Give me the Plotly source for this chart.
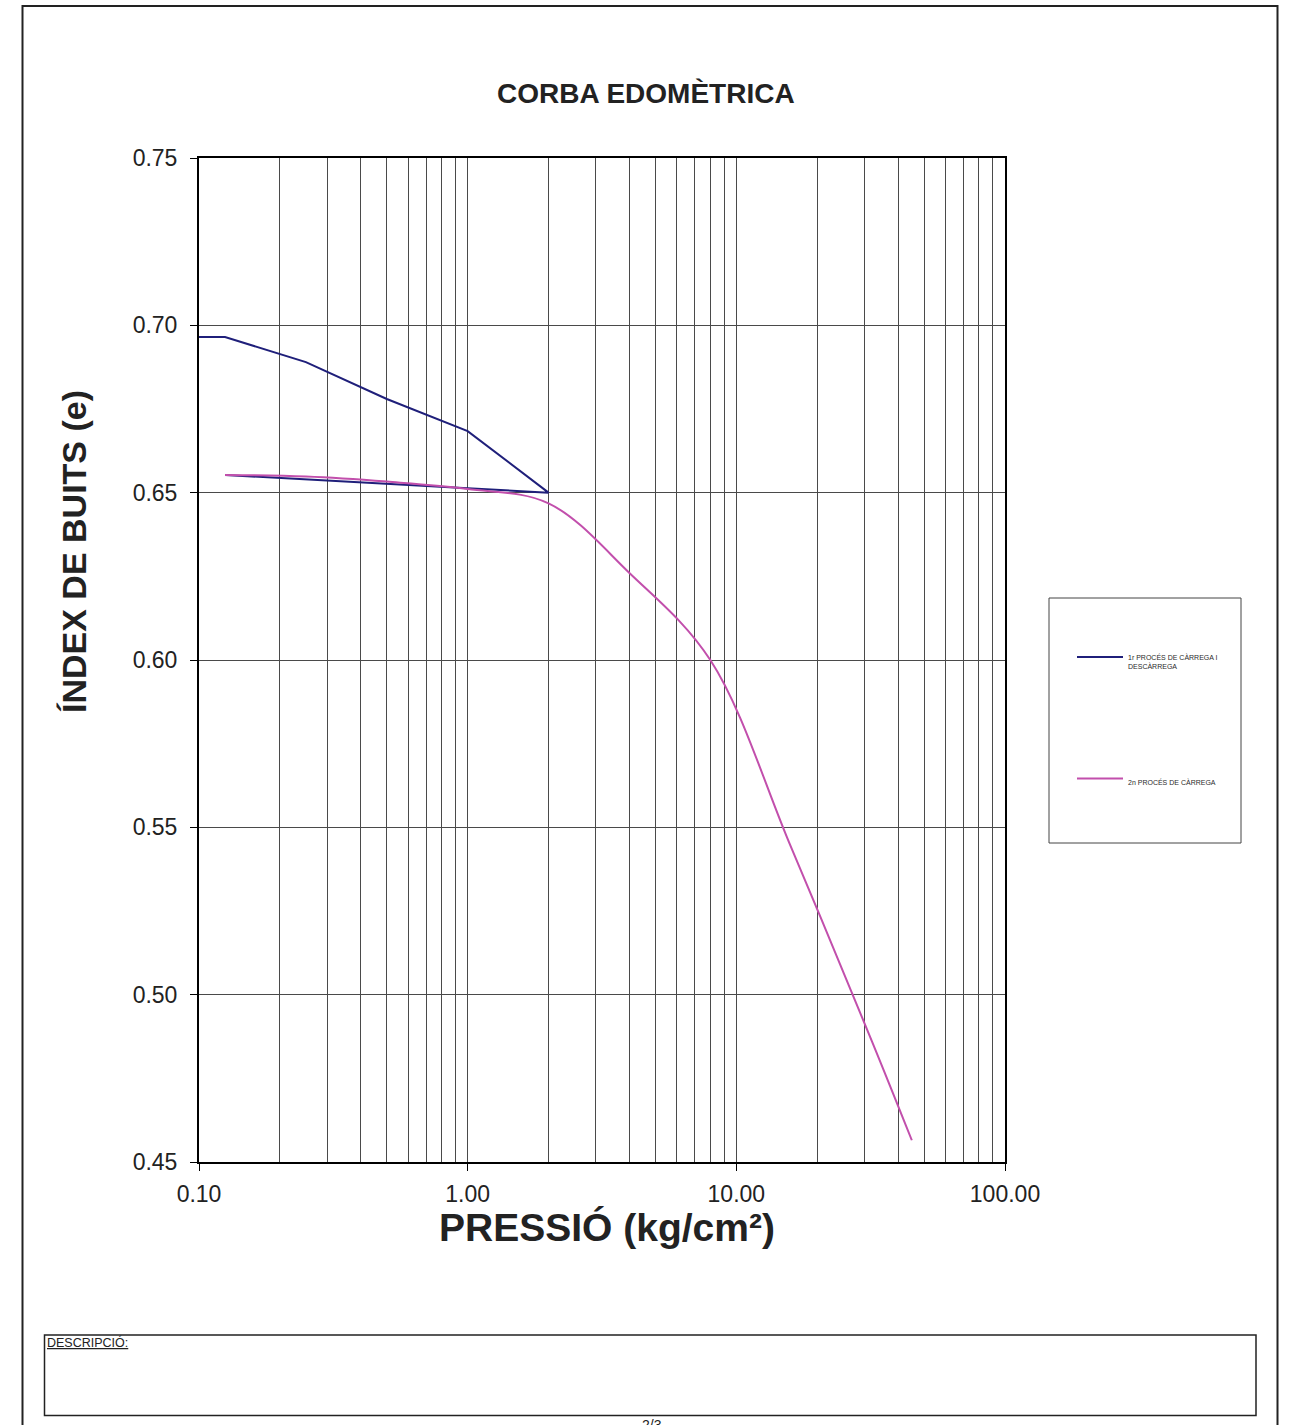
import plotly.graph_objects as go

# ---- data ----
pressure_load1 = [0.1, 0.125, 0.25, 0.5, 1.0, 2.0, 1.0, 0.5, 0.25, 0.125]
void_load1 = [0.6965, 0.6965, 0.689, 0.678, 0.6684, 0.650, 0.6513, 0.6526, 0.6539, 0.6553]

pressure_load2 = [0.125, 0.25, 0.5, 1.0, 2.0, 4.0, 8.0, 16.0, 32.0, 45.0]
void_load2 = [0.6553, 0.6548, 0.6533, 0.6511, 0.6468, 0.626, 0.600, 0.544, 0.486, 0.4565]

name_1 = "1r PROCÉS DE CÀRREGA I<br>DESCÀRREGA"
name_2 = "2n PROCÉS DE CÀRREGA"

x_tickvals = [0.1, 1, 10, 100]
x_ticktext = ["0.10", "1.00", "10.00", "100.00"]
x_minorvals = [m * d for d in (0.1, 1, 10) for m in range(2, 10)]
y_tickvals = [0.45, 0.50, 0.55, 0.60, 0.65, 0.70, 0.75]

FONT = "Liberation Sans, Arial, sans-serif"
GRID = "#4a4a4a"

fig = go.Figure()
fig.add_trace(go.Scatter(x=pressure_load1, y=void_load1, mode="lines", name=name_1,
                         line=dict(color="#1f1f7a", width=2), legend="legend"))
fig.add_trace(go.Scatter(x=pressure_load2, y=void_load2, mode="lines", name=name_2,
                         line=dict(color="#c24fac", width=2, shape="spline", smoothing=1),
                         legend="legend2"))

W, H = 1293, 1425
L, R, T, B = 199, 288, 158, 263
pw, ph = W - L - R, H - T - B

def px(x):
    return (x - L) / pw

def py(y):
    return (H - B - y) / ph

legend_common = dict(font=dict(family=FONT, size=7, color="#2a2a2a"), bgcolor="rgba(0,0,0,0)",
                     borderwidth=0, xanchor="left", yanchor="middle", itemwidth=46,
                     valign="top", tracegroupgap=0)

fig.update_layout(
    width=W, height=H,
    margin=dict(l=L, r=R, t=T, b=B),
    paper_bgcolor="white", plot_bgcolor="white",
    font=dict(family=FONT, color="#222222"),
    showlegend=True,
    legend=dict(x=px(1072), y=py(662), **legend_common),
    legend2=dict(x=px(1072), y=py(782), **legend_common),
    xaxis=dict(type="log", range=[-1, 2], tickvals=x_tickvals, ticktext=x_ticktext,
               showgrid=True, gridcolor=GRID, gridwidth=1,
               minor=dict(tickvals=x_minorvals, showgrid=True, gridcolor=GRID, gridwidth=1, ticks=""),
               ticks="outside", ticklen=7, tickcolor="black", ticklabelstandoff=3,
               tickfont=dict(family=FONT, size=23, color="#222222"),
               showline=True, linecolor="black", linewidth=2, mirror=True, zeroline=False),
    yaxis=dict(range=[0.45, 0.75], tickvals=y_tickvals, tickformat=".2f",
               showgrid=True, gridcolor=GRID, gridwidth=1,
               ticks="outside", ticklen=7, tickcolor="black", ticklabelstandoff=8,
               tickfont=dict(family=FONT, size=23, color="#222222"),
               showline=True, linecolor="black", linewidth=2, mirror=True, zeroline=False),
    shapes=[
        # outer page frame (open at the bottom)
        dict(type="rect", xref="paper", yref="paper", x0=px(22.5), x1=px(1277.5),
             y0=py(1460), y1=py(6), line=dict(color="#222222", width=2), layer="below"),
        # legend frame
        dict(type="rect", xref="paper", yref="paper", x0=px(1049), x1=px(1241),
             y0=py(843), y1=py(598), line=dict(color="#444444", width=1)),
        # description box
        dict(type="rect", xref="paper", yref="paper", x0=px(44.5), x1=px(1256),
             y0=py(1415.5), y1=py(1335), line=dict(color="#222222", width=1.5)),
    ],
    annotations=[
        dict(text="<b>CORBA EDOMÈTRICA</b>", xref="paper", yref="paper", x=px(646), y=py(93),
             showarrow=False, xanchor="center", yanchor="middle",
             font=dict(family=FONT, size=28, color="#222222")),
        dict(text="<b>ÍNDEX DE BUITS (e)</b>", xref="paper", yref="paper", x=px(74), y=py(552),
             showarrow=False, xanchor="center", yanchor="middle", textangle=-90,
             font=dict(family=FONT, size=34, color="#222222")),
        dict(text="<b>PRESSIÓ (kg/cm²)</b>", xref="paper", yref="paper", x=px(607), y=py(1227),
             showarrow=False, xanchor="center", yanchor="middle",
             font=dict(family=FONT, size=39, color="#222222")),
        dict(text="<u>DESCRIPCIÓ:</u>", xref="paper", yref="paper", x=px(45), y=py(1333),
             showarrow=False, xanchor="left", yanchor="top",
             font=dict(family=FONT, size=12.5, color="#222222")),
        dict(text="2/3", xref="paper", yref="paper", x=px(652), y=py(1415),
             showarrow=False, xanchor="center", yanchor="top",
             font=dict(family=FONT, size=14, color="#222222")),
    ],
)

fig.write_html("out.html")
